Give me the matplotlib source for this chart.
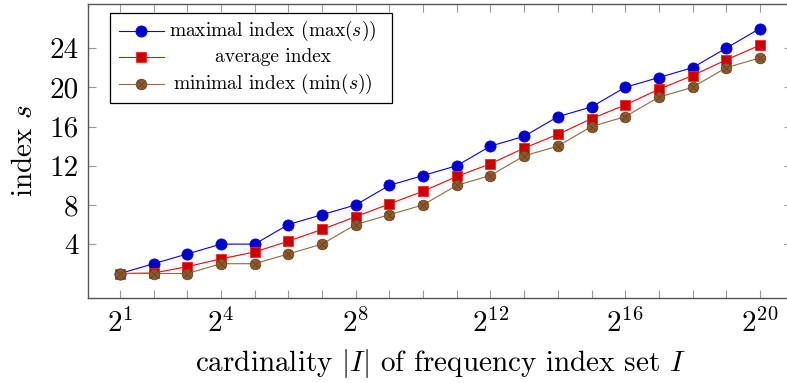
import matplotlib
matplotlib.use("Agg")
import matplotlib.pyplot as plt
from matplotlib.patches import Rectangle

plt.rcParams['font.family'] = 'serif'
plt.rcParams['font.serif'] = ['cmr10']
plt.rcParams['mathtext.fontset'] = 'cm'
plt.rcParams['axes.unicode_minus'] = False
plt.rcParams['axes.formatter.use_mathtext'] = True

# exponent k of |I| = 2^k
exponents = list(range(1, 21))
max_index = [1, 2, 3, 4, 4, 6, 7, 8, 10, 11, 12, 14, 15, 17, 18, 20, 21, 22, 24, 26]
avg_index = [1.0, 1.05, 1.7, 2.5, 3.2, 4.3, 5.5, 6.8, 8.1, 9.4,
             10.9, 12.2, 13.8, 15.2, 16.8, 18.2, 19.8, 21.2, 22.8, 24.3]
min_index = [1, 1, 1, 2, 2, 3, 4, 6, 7, 8, 10, 11, 13, 14, 16, 17, 19, 20, 22, 23]

xtick_labels = [1, 4, 8, 12, 16, 20]
ytick_values = [4, 8, 12, 16, 20, 24]
labels = ["maximal index (max$(s)$)", "average index", "minimal index (min$(s)$)"]

brown_line = '#98683a'
brown_fill = '#8e5a2b'
brown_edge = '#6a4220'

fig = plt.figure(figsize=(7.87, 3.83), dpi=100)
ax = fig.add_axes([88 / 787, 1 - 298 / 383, (791.9 - 88) / 787, 294 / 383])

styles = [
    dict(color='#0000ff', marker='o', markersize=8, markerfacecolor='#0000cc',
         markeredgecolor='#0000ee'),
    dict(color='#ff0000', marker='s', markersize=7.2, markerfacecolor='#cc0000',
         markeredgecolor='#ff2020'),
    dict(color=brown_line, marker='o', markersize=7.6, markerfacecolor=brown_fill,
         markeredgecolor=brown_edge),
]
series = [max_index, avg_index, min_index]

for ys, st in zip(series, styles):
    ax.plot(exponents, ys, linewidth=0.8, markeredgewidth=0.6, **st)
# the crossed-out look of the brown circles
ax.plot(exponents, min_index, linestyle='none', marker='x', markersize=5.5,
        markeredgecolor=brown_edge, markeredgewidth=0.6)

ax.set_xlim(0.05, 20.95)
ax.set_ylim(-1.5, 28.5)
ax.set_xticks(exponents)
ax.set_xticklabels([f"$2^{{{k}}}$" if k in xtick_labels else "" for k in exponents])
ax.set_yticks(ytick_values)
ax.set_yticklabels([str(v) for v in ytick_values])

ax.tick_params(direction='in', length=5.5, width=0.8, color='#999999',
               top=True, right=True, labelsize=21)
ax.tick_params(axis='x', pad=8)
ax.tick_params(axis='y', pad=7)
for sp in ax.spines.values():
    sp.set_color('#555555')
    sp.set_linewidth(1.0)

ax.set_xlabel("cardinality $|I|$ of frequency index set $I$", fontsize=21, labelpad=6)
ax.set_ylabel("index $s$", fontsize=21, labelpad=8)

# legend drawn by hand so the labels can be centred like in pgfplots
x0, x1 = 0.0313, 0.432
y0, y1 = 0.663, 0.969
ax.add_patch(Rectangle((x0, y0), x1 - x0, y1 - y0, transform=ax.transAxes,
                       facecolor='white', edgecolor='black', linewidth=0.9, zorder=5))
rows_y = [0.908, 0.820, 0.728]
for i, (st, lab) in enumerate(zip(styles, labels)):
    yy = rows_y[i]
    ax.plot([0.0440, 0.1080], [yy, yy], transform=ax.transAxes, linewidth=0.8,
            markevery=[], zorder=6, **st)
    ax.plot([0.0760], [yy], transform=ax.transAxes, linestyle='none',
            markeredgewidth=0.6, zorder=7, **st)
    if i == 2:
        ax.plot([0.0760], [yy], transform=ax.transAxes, linestyle='none', marker='x',
                markersize=5.5, markeredgecolor=brown_edge, markeredgewidth=0.6, zorder=8)
    ax.text(0.2630, yy, lab, transform=ax.transAxes, ha='center', va='center',
            fontsize=14, zorder=8)

fig.savefig("out.png", dpi=100)
